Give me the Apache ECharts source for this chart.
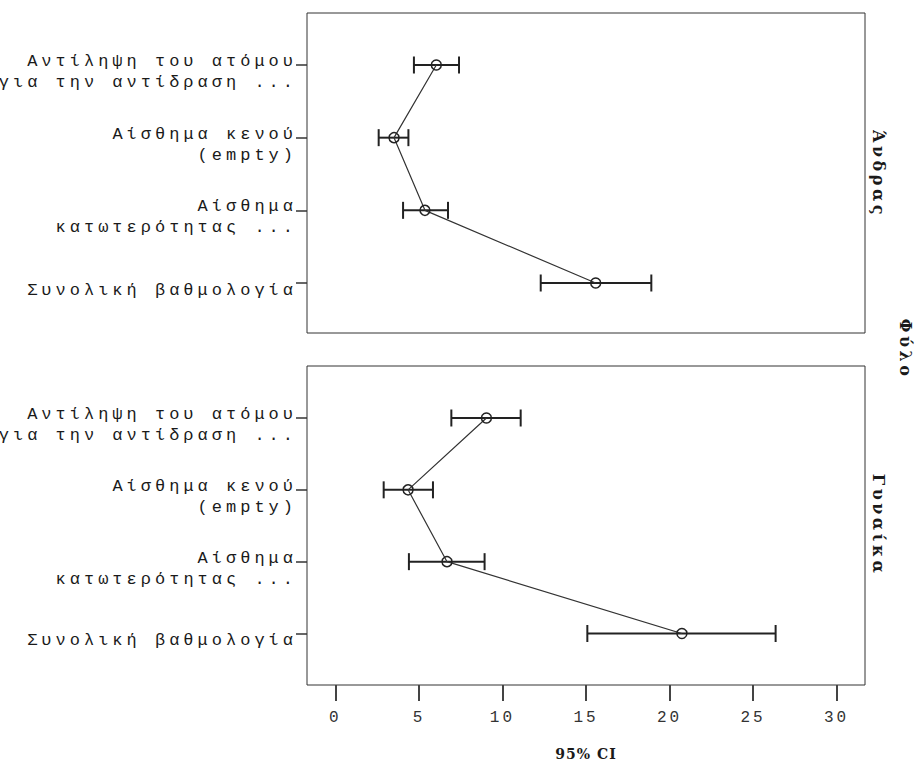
<!DOCTYPE html>
<html>
<head>
<meta charset="utf-8">
<title>95% CI</title>
<script src="https://cdn.jsdelivr.net/npm/echarts@6/dist/echarts.min.js"></script>
<style>
  html, body { margin: 0; padding: 0; background: #fff; }
  #chart { width: 920px; height: 766px; }
</style>
</head>
<body>
<div id="chart"></div>
<script>
// categories, top to bottom
const categories = [
  'Αντίληψη του ατόμου\nγια την αντίδραση ...',
  'Αίσθημα κενού\n(empty)',
  'Αίσθημα\nκατωτερότητας ...',
  'Συνολική βαθμολογία'
];
const panelNames = ['Άνδρας', 'Γυναίκα'];
const stripTitle = 'Φύλο';
const xTitle = '95% CI';
const xTicks = [0, 5, 10, 15, 20, 25, 30];

// Άνδρας
const maleLow = [4.70, 2.59, 4.05, 12.29];
const maleMean = [6.04, 3.51, 5.36, 15.58];
const maleHigh = [7.40, 4.37, 6.74, 18.91];
// Γυναίκα
const femaleLow = [6.94, 2.89, 4.40, 15.08];
const femaleMean = [9.04, 4.35, 6.68, 20.74];
const femaleHigh = [11.09, 5.84, 8.93, 26.35];

const xMin = -1.7;
const xMax = 31.7;

const monoFont = "'Liberation Mono', 'DejaVu Sans Mono', monospace";
const serifFont = "'DejaVu Serif', 'Liberation Serif', serif";
const ink = '#1a1a1a';

const chart = echarts.init(document.getElementById('chart'), null, { renderer: 'svg' });

// panel layout: outer = framed box, inner = where the categories sit
const left = 307;
const width = 558;
const labelShift = 7; // labels sit a little below their tick
const panels = [
  { outerTop: 13, outerHeight: 320, innerTop: 65, innerHeight: 218 },
  { outerTop: 366, outerHeight: 319, innerTop: 418, innerHeight: 215.5 }
];

// error bar with end caps
function renderErrorBar(params, api) {
  const lo = api.coord([api.value(0), api.value(2)]);
  const hi = api.coord([api.value(1), api.value(2)]);
  const cap = 8.5;
  const style = { stroke: '#222', lineWidth: 2 };
  return {
    type: 'group',
    children: [
      { type: 'line', shape: { x1: lo[0], y1: lo[1], x2: hi[0], y2: hi[1] }, style: style },
      { type: 'line', shape: { x1: lo[0], y1: lo[1] - cap, x2: lo[0], y2: lo[1] + cap }, style: style },
      { type: 'line', shape: { x1: hi[0], y1: hi[1] - cap, x2: hi[0], y2: hi[1] + cap }, style: style }
    ]
  };
}

function panelSeries(low, mean, high, axisIndex) {
  return [
    {
      type: 'custom',
      xAxisIndex: axisIndex,
      yAxisIndex: axisIndex,
      data: low.map((v, i) => [v, high[i], i]),
      encode: { x: [0, 1], y: 2 },
      renderItem: renderErrorBar,
      z: 2
    },
    {
      type: 'line',
      xAxisIndex: axisIndex,
      yAxisIndex: axisIndex,
      data: mean.map((v, i) => [v, i]),
      symbol: 'circle',
      symbolSize: 10,
      lineStyle: { color: '#333', width: 1.2 },
      itemStyle: { color: 'rgba(0,0,0,0)', borderColor: '#222', borderWidth: 1.5 },
      z: 3
    }
  ];
}

const grids = [];
const xAxes = [];
const yAxes = [];
const dataAxis = [];
panels.forEach((p, k) => {
  const g = grids.length;
  // outer frame
  grids.push({
    left: left, width: width, top: p.outerTop, height: p.outerHeight,
    show: true, borderColor: '#333', borderWidth: 1, backgroundColor: '#fff'
  });
  // plotting area (data + ticks)
  grids.push({ left: left, width: width, top: p.innerTop, height: p.innerHeight });
  // same area shifted down, carries the category labels
  grids.push({ left: left, width: width, top: p.innerTop + labelShift, height: p.innerHeight });
  dataAxis.push(g + 1);

  const isBottom = k === panels.length - 1;
  xAxes.push(isBottom ? {
    gridIndex: g,
    type: 'value',
    min: xMin,
    max: xMax,
    axisLine: { show: false },
    splitLine: { show: false },
    axisTick: { customValues: xTicks, length: 16, lineStyle: { color: '#444', width: 2 } },
    axisLabel: { customValues: xTicks, margin: 25, color: '#333', fontFamily: monoFont, fontSize: 16 },
    name: xTitle,
    nameLocation: 'middle',
    nameGap: 62,
    nameTextStyle: { color: ink, fontFamily: serifFont, fontWeight: 'bold', fontSize: 14 }
  } : { gridIndex: g, type: 'value', min: xMin, max: xMax, show: false });
  xAxes.push({ gridIndex: g + 1, type: 'value', min: xMin, max: xMax, show: false });
  xAxes.push({ gridIndex: g + 2, type: 'value', min: xMin, max: xMax, show: false });

  yAxes.push({ gridIndex: g, type: 'value', show: false });
  yAxes.push({
    gridIndex: g + 1,
    type: 'category',
    inverse: true,
    boundaryGap: false,
    data: categories,
    axisLine: { show: false, onZero: false },
    splitLine: { show: false },
    axisTick: { length: 11, lineStyle: { color: '#333', width: 1.5 } },
    axisLabel: { show: false }
  });
  yAxes.push({
    gridIndex: g + 2,
    type: 'category',
    inverse: true,
    boundaryGap: false,
    data: categories,
    axisLine: { show: false, onZero: false },
    splitLine: { show: false },
    axisTick: { show: false },
    axisLabel: {
      interval: 0,
      margin: 10,
      color: ink,
      fontFamily: monoFont,
      fontSize: 17,
      lineHeight: 21,
      align: 'right',
      verticalAlign: 'middle'
    }
  });
});

const stripStyle = { fill: ink, font: 'bold 16px ' + serifFont, align: 'center', verticalAlign: 'middle' };

const option = {
  animation: false,
  backgroundColor: '#fff',
  grid: grids,
  xAxis: xAxes,
  yAxis: yAxes,
  graphic: [
    { type: 'text', x: 878, y: 174, rotation: -Math.PI / 2, style: Object.assign({ text: panelNames[0] }, stripStyle) },
    { type: 'text', x: 878, y: 525, rotation: -Math.PI / 2, style: Object.assign({ text: panelNames[1] }, stripStyle) },
    { type: 'text', x: 905, y: 349, rotation: -Math.PI / 2, style: Object.assign({ text: stripTitle }, stripStyle) }
  ],
  series: [].concat(
    panelSeries(maleLow, maleMean, maleHigh, dataAxis[0]),
    panelSeries(femaleLow, femaleMean, femaleHigh, dataAxis[1])
  )
};
chart.setOption(option);

// the original uses widely spaced type; svg text takes letter-spacing
function spaceText() {
  document.querySelectorAll('#chart text').forEach(t => {
    const txt = t.textContent.trim();
    const cs = getComputedStyle(t);
    let sp;
    if (/^\d+$/.test(txt)) sp = 3;
    else if (cs.fontFamily.indexOf('Mono') >= 0) sp = 4;
    else if (txt === xTitle) sp = 1;
    else sp = 3.5;
    t.setAttribute('letter-spacing', sp);
  });
}
spaceText();
chart.on('finished', spaceText);
</script>
</body>
</html>
